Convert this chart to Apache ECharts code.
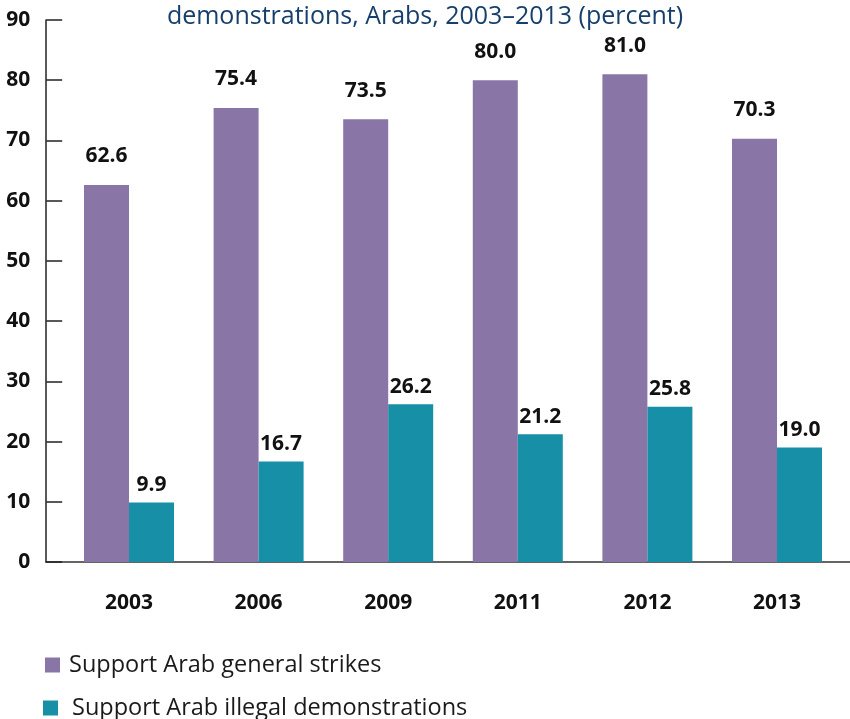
<!DOCTYPE html>
<html>
<head>
<meta charset="utf-8">
<style>html,body{margin:0;padding:0;background:#fff;}#chart{width:850px;height:719px;}</style>
<script src="https://cdn.jsdelivr.net/npm/echarts@6/dist/echarts.min.js"></script>
</head>
<body>
<div id="chart"></div>
<script>
const titleText = 'demonstrations, Arabs, 2003\u20132013 (percent)';
const years = ['2003', '2006', '2009', '2011', '2012', '2013'];
const seriesNames = ['Support Arab general strikes', 'Support Arab illegal demonstrations'];
const strikes = [62.6, 75.4, 73.5, 80.0, 81.0, 70.3];
const demonstrations = [9.9, 16.7, 26.2, 21.2, 25.8, 19.0];
const yTicks = { min: 0, max: 90, interval: 10 };

const chart = echarts.init(document.getElementById('chart'), null, { renderer: 'canvas' });
const numFont = { fontFamily: 'Open Sans', fontWeight: 'bold', fontSize: 21, color: '#111' };
const legendText1 = { fontFamily: 'Open Sans', fontSize: 23.5, color: '#1a1a1a', padding: [0, 0, 0, 4] };
const legendText2 = { fontFamily: 'Open Sans', fontSize: 23.5, color: '#1a1a1a', padding: [0, 0, 0, 9] };

chart.setOption({
  animation: false,
  title: {
    text: titleText, left: 'center', top: -1,
    textStyle: { fontFamily: 'Open Sans', fontWeight: 'normal', fontSize: 25, color: '#163f6b' }
  },
  legend: [
    { data: [seriesNames[0]], left: 40, top: 648, icon: 'rect', itemWidth: 15, itemHeight: 15, textStyle: legendText1 },
    { data: [seriesNames[1]], left: 38, top: 691, icon: 'rect', itemWidth: 15, itemHeight: 15, textStyle: legendText2 }
  ],
  grid: [
    { left: 64.2, right: 8.2, top: 20, bottom: 157 },
    { left: 46, right: 0, top: 20, bottom: 157 }
  ],
  xAxis: [
    {
      type: 'category', data: years, gridIndex: 0,
      axisLine: { show: false }, axisTick: { show: false },
      axisLabel: Object.assign({ margin: 31 }, numFont)
    },
    {
      type: 'category', data: years, gridIndex: 1,
      axisLine: { show: true, lineStyle: { color: '#333', width: 1.5 } },
      axisTick: { show: false }, axisLabel: { show: false }
    }
  ],
  yAxis: [
    {
      type: 'value', gridIndex: 0, min: yTicks.min, max: yTicks.max, interval: yTicks.interval, offset: 18,
      axisLine: { show: true, lineStyle: { color: '#222', width: 1.5 } },
      axisTick: { show: true, inside: true, length: 16, lineStyle: { color: '#222', width: 1.5 } },
      splitLine: { show: false },
      axisLabel: Object.assign({ margin: 16 }, numFont)
    },
    { type: 'value', gridIndex: 1, min: 0, max: 90, show: false }
  ],
  series: [
    {
      name: seriesNames[0], type: 'bar', data: strikes, barWidth: 45, barGap: '0%',
      itemStyle: { color: '#8975a6' },
      label: Object.assign({ show: true, position: 'top', distance: 18, formatter: p => p.value.toFixed(1) }, numFont)
    },
    {
      name: seriesNames[1], type: 'bar', data: demonstrations, barWidth: 45, barGap: '0%',
      itemStyle: { color: '#178fa6' },
      label: Object.assign({ show: true, position: 'top', distance: 7, formatter: p => p.value.toFixed(1) }, numFont)
    }
  ]
});
</script>
</body>
</html>
